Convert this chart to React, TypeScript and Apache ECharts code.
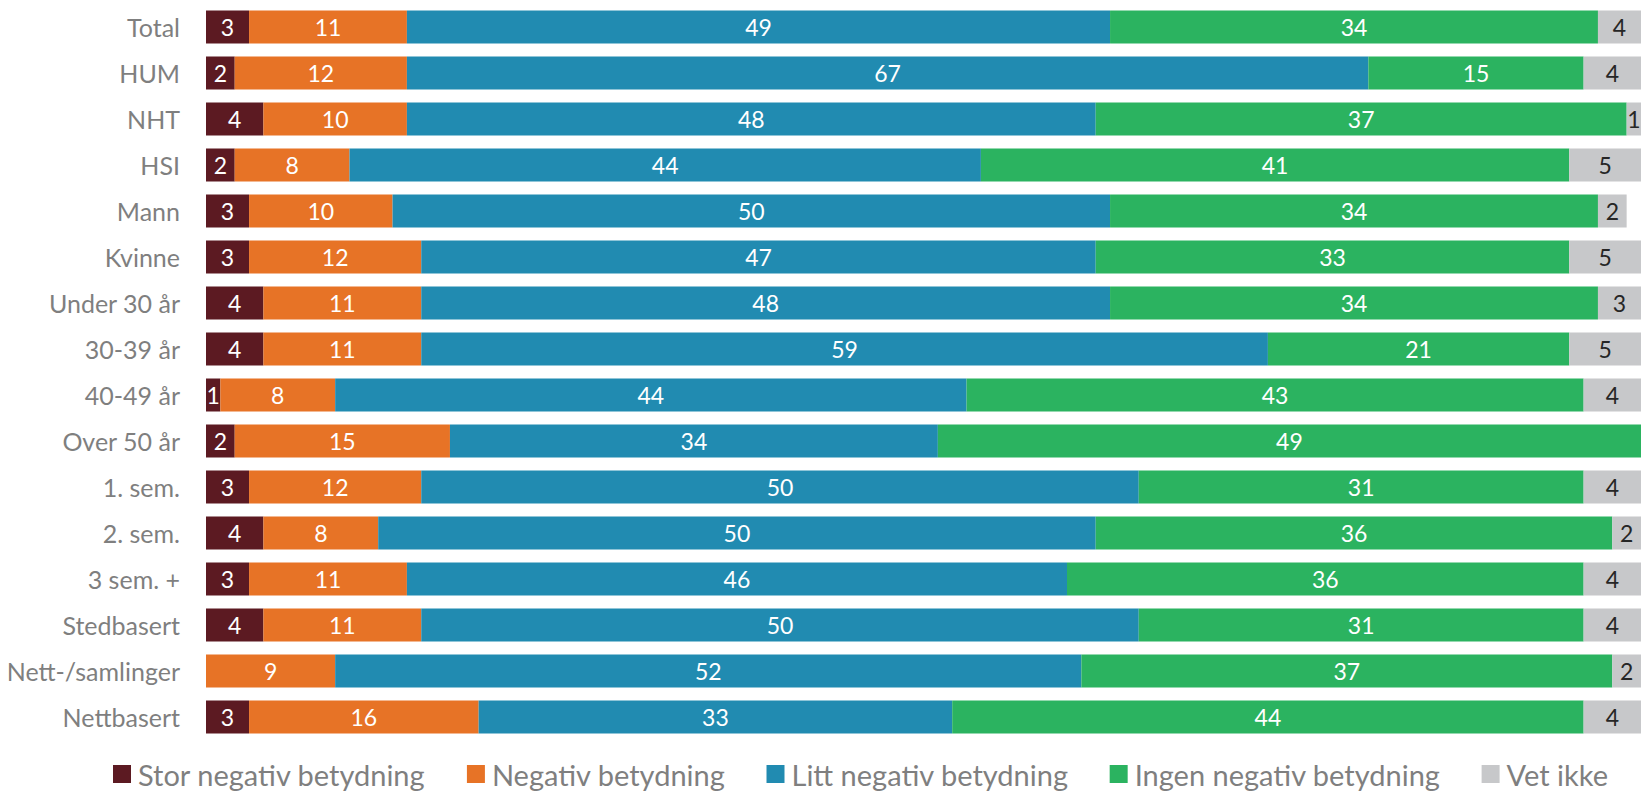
import React, { useEffect, useRef } from "react";
import * as echarts from "echarts";

const categories = [
  "Total", "HUM", "NHT", "HSI", "Mann", "Kvinne", "Under 30 år", "30-39 år",
  "40-49 år", "Over 50 år", "1. sem.", "2. sem.", "3 sem. +", "Stedbasert",
  "Nett-/samlinger", "Nettbasert",
];
const seriesNames = [
  "Stor negativ betydning", "Negativ betydning", "Litt negativ betydning",
  "Ingen negativ betydning", "Vet ikke",
];
const storNegativ = [3, 2, 4, 2, 3, 3, 4, 4, 1, 2, 3, 4, 3, 4, 0, 3];
const negativ = [11, 12, 10, 8, 10, 12, 11, 11, 8, 15, 12, 8, 11, 11, 9, 16];
const littNegativ = [49, 67, 48, 44, 50, 47, 48, 59, 44, 34, 50, 50, 46, 50, 52, 33];
const ingenNegativ = [34, 15, 37, 41, 34, 33, 34, 21, 43, 49, 31, 36, 36, 31, 37, 44];
const vetIkke = [4, 4, 1, 5, 2, 5, 3, 5, 4, 0, 4, 2, 4, 4, 2, 4];

const colors = ["#5C1A22", "#E77326", "#218BB1", "#2BB360", "#C7C8CA"];
const labelColors = ["#FFFFFF", "#FFFFFF", "#FFFFFF", "#FFFFFF", "#262626"];
const FONT = "Lato, 'Noto Sans', sans-serif";

export default function App() {
  const ref = useRef<HTMLDivElement>(null);
  useEffect(() => {
    if (!ref.current) return;
    const chart = echarts.init(ref.current, null, { renderer: "svg" });
    const data = [storNegativ, negativ, littNegativ, ingenNegativ, vetIkke];
    chart.setOption({
      animation: false,
      textStyle: { fontFamily: FONT },
      grid: { left: 206, right: 0, top: 4, bottom: 55, containLabel: false },
      xAxis: {
        type: "value",
        min: 0,
        max: 100,
        show: false,
      },
      yAxis: {
        type: "category",
        data: categories,
        inverse: true,
        axisLine: { show: false },
        axisTick: { show: false },
        axisLabel: { color: "#7F7F7F", fontSize: 25, fontFamily: FONT, margin: 26 },
      },
      legend: {
        data: seriesNames,
        left: 113,
        top: 757,
        padding: 0,
        itemWidth: 18,
        itemHeight: 18,
        itemGap: 41,
        icon: "rect",
        textStyle: {
          color: "#7F7F7F",
          fontSize: 29,
          lineHeight: 34,
          fontFamily: FONT,
          padding: [0, 0, 0, 2],
        },
      },
      series: data.map((vals, i) => ({
        name: seriesNames[i],
        type: "bar",
        stack: "total",
        barWidth: 33,
        clip: true,
        itemStyle: { color: colors[i] },
        label: {
          show: true,
          position: "inside",
          color: labelColors[i],
          fontSize: 23,
          fontFamily: FONT,
          formatter: (p: any) => (p.value ? String(p.value) : ""),
        },
        data: vals,
      })),
    });
    return () => chart.dispose();
  }, []);
  return (
    <div
      ref={ref}
      style={{ position: "fixed", left: 0, top: 0, width: 1641, height: 795, background: "#fff" }}
    />
  );
}
